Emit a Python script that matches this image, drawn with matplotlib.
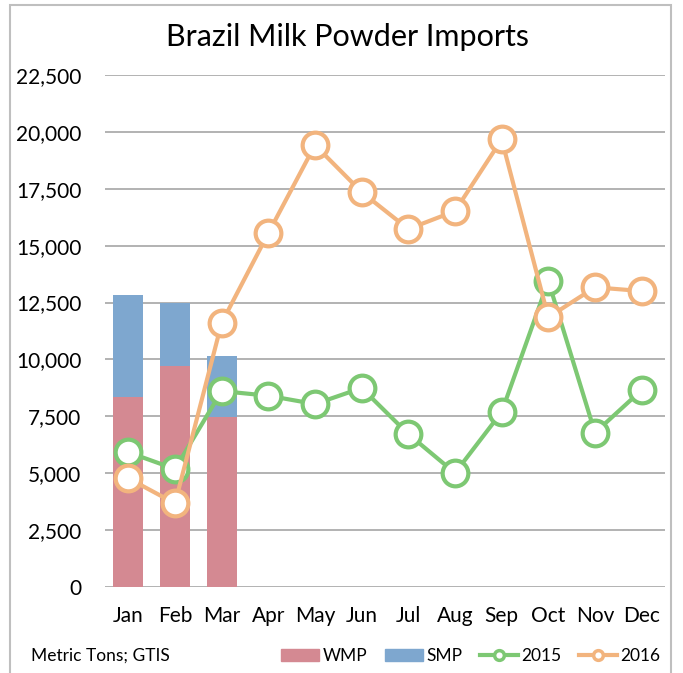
import numpy as np
import matplotlib
matplotlib.use("Agg")
import matplotlib.pyplot as plt
from matplotlib.lines import Line2D
from matplotlib.patches import Patch, Rectangle

months = ["Jan", "Feb", "Mar", "Apr", "May", "Jun",
          "Jul", "Aug", "Sep", "Oct", "Nov", "Dec"]
wmp = [8350, 9725, 7480]
smp = [4490, 2765, 2655]
y2015 = [5920, 5185, 8610, 8405, 8040, 8745, 6720, 5010, 7690, 13445, 6780, 8655]
y2016 = [4775, 3675, 11610, 15550, 19420, 17355, 15730, 16520, 19670, 11850, 13170, 13005]
yticks = [0, 2500, 5000, 7500, 10000, 12500, 15000, 17500, 20000, 22500]

c_wmp = "#D48992"
c_smp = "#7EA7CF"
c_15 = "#7DC873"
c_16 = "#F2B47E"

plt.rcParams['font.family'] = ['Lato', 'DejaVu Sans']

fig = plt.figure(figsize=(6.83, 6.73), dpi=100)
ax = fig.add_axes([105/683, 1-587/673, 560/683, 512/673])

x = np.arange(len(months))
xb = x[:len(wmp)]
ax.bar(xb, wmp, width=0.64, color=c_wmp, zorder=2)
ax.bar(xb, smp, width=0.64, bottom=wmp, color=c_smp, zorder=2)

ax.plot(x, y2015, color=c_15, lw=3, marker="o", ms=18.5, mfc="white",
        mec=c_15, mew=3, zorder=3)
ax.plot(x, y2016, color=c_16, lw=3, marker="o", ms=18.5, mfc="white",
        mec=c_16, mew=3, zorder=4)

ax.set_xlim(-0.5, 11.5)
ax.set_ylim(0, 22500)
ax.set_yticks(yticks)
ax.set_yticklabels([f"{v:,}" for v in yticks], fontsize=15)
ax.set_xticks(x)
ax.set_xticklabels(months, fontsize=15)
ax.tick_params(axis="y", length=0, pad=17)
ax.tick_params(axis="x", length=0, pad=14)
ax.grid(axis="y", color="#A6A6A6", lw=1.2, zorder=0)
for s in ax.spines.values():
    s.set_visible(False)

fig.text(347/683, 1-37/673, "Brazil Milk Powder Imports", ha="center",
         va="center", fontsize=22)
fig.text(31/683, 1-656/673, "Metric Tons; GTIS", ha="left", va="center",
         fontsize=12.5)

handles = [Patch(color=c_wmp), Patch(color=c_smp),
           Line2D([], [], color=c_15, lw=3, marker="o", ms=7, mfc="white", mew=2.5),
           Line2D([], [], color=c_16, lw=3, marker="o", ms=7, mfc="white", mew=2.5)]
fig.legend(handles, ["WMP", "SMP", "2015", "2016"], loc="center right",
           bbox_to_anchor=(676/683, 1-656/673), ncol=4, frameon=False,
           fontsize=12.5, handlelength=2.2, handletextpad=0.2,
           columnspacing=1.0, handleheight=0.7)

fig.patches.append(Rectangle((10/683, -0.01), 661/683, 1-5/673+0.01,
                             transform=fig.transFigure, fill=False,
                             ec="#BFBFBF", lw=1.5))

fig.savefig("out.png", dpi=100)
